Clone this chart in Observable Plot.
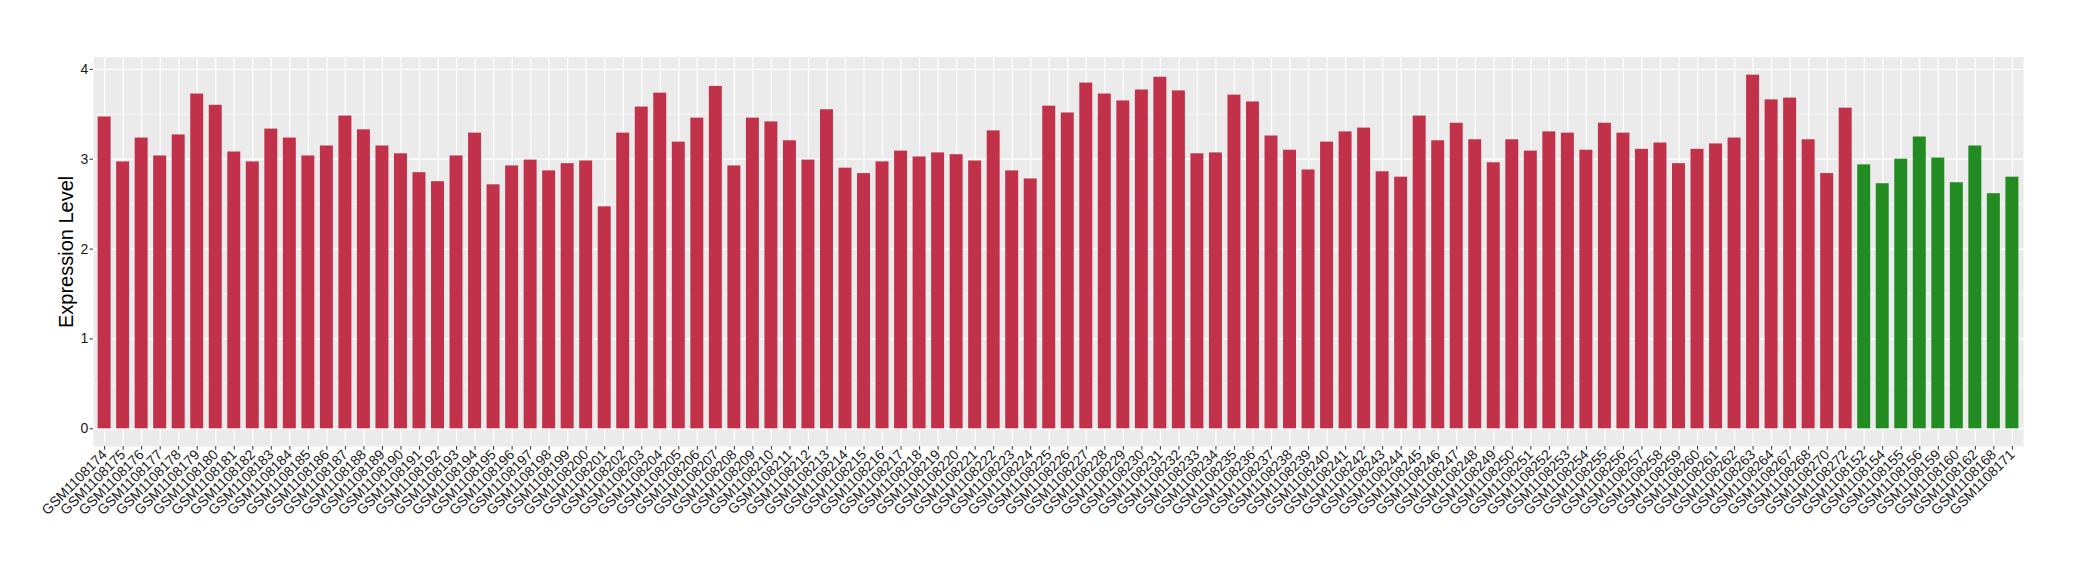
<!DOCTYPE html>
<html>
<head>
<meta charset="utf-8">
<script src="https://cdn.jsdelivr.net/npm/d3@7"></script>
<script src="https://cdn.jsdelivr.net/npm/@observablehq/plot@0.6"></script>
<style>
  html, body { margin: 0; padding: 0; background: #ffffff; }
  #chart { width: 2080px; height: 580px; }
</style>
</head>
<body>
<div id="chart"></div>
<script>
// ---- data ----
const group1Samples = [
  "GSM1108174","GSM1108175","GSM1108176","GSM1108177","GSM1108178","GSM1108179","GSM1108180","GSM1108181",
  "GSM1108182","GSM1108183","GSM1108184","GSM1108185","GSM1108186","GSM1108187","GSM1108188","GSM1108189",
  "GSM1108190","GSM1108191","GSM1108192","GSM1108193","GSM1108194","GSM1108195","GSM1108196","GSM1108197",
  "GSM1108198","GSM1108199","GSM1108200","GSM1108201","GSM1108202","GSM1108203","GSM1108204","GSM1108205",
  "GSM1108206","GSM1108207","GSM1108208","GSM1108209","GSM1108210","GSM1108211","GSM1108212","GSM1108213",
  "GSM1108214","GSM1108215","GSM1108216","GSM1108217","GSM1108218","GSM1108219","GSM1108220","GSM1108221",
  "GSM1108222","GSM1108223","GSM1108224","GSM1108225","GSM1108226","GSM1108227","GSM1108228","GSM1108229",
  "GSM1108230","GSM1108231","GSM1108232","GSM1108233","GSM1108234","GSM1108235","GSM1108236","GSM1108237",
  "GSM1108238","GSM1108239","GSM1108240","GSM1108241","GSM1108242","GSM1108243","GSM1108244","GSM1108245",
  "GSM1108246","GSM1108247","GSM1108248","GSM1108249","GSM1108250","GSM1108251","GSM1108252","GSM1108253",
  "GSM1108254","GSM1108255","GSM1108256","GSM1108257","GSM1108258","GSM1108259","GSM1108260","GSM1108261",
  "GSM1108262","GSM1108263","GSM1108264","GSM1108267","GSM1108268","GSM1108270","GSM1108272"
];
const group1Values = [
  3.47, 2.97, 3.235, 3.036, 3.27, 3.725, 3.60, 3.08,
  2.97, 3.335, 3.235, 3.036, 3.147, 3.48, 3.327, 3.147,
  3.06, 2.85, 2.75, 3.036, 3.29, 2.715, 2.925, 2.99,
  2.87, 2.95, 2.98, 2.47, 3.29, 3.58, 3.735, 3.19,
  3.457, 3.81, 2.925, 3.457, 3.415, 3.205, 2.99, 3.55,
  2.90, 2.84, 2.97, 3.09, 3.025, 3.07, 3.05, 2.98,
  3.315, 2.87, 2.78, 3.59, 3.514, 3.847, 3.725, 3.648,
  3.77, 3.912, 3.76, 3.06, 3.07, 3.713, 3.637, 3.258,
  3.10, 2.88, 3.19, 3.304, 3.346, 2.86, 2.80, 3.48,
  3.205, 3.40, 3.216, 2.96, 3.216, 3.09, 3.304, 3.29,
  3.10, 3.40, 3.29, 3.11, 3.18, 2.95, 3.11, 3.17,
  3.235, 3.935, 3.66, 3.68, 3.216, 2.84, 3.568
];
const group2Samples = [
  "GSM1108152","GSM1108154","GSM1108155","GSM1108156","GSM1108159",
  "GSM1108160","GSM1108162","GSM1108168","GSM1108171"
];
const group2Values = [2.937, 2.727, 3.00, 3.247, 3.013, 2.738, 3.147, 2.616, 2.80];

const groupNames = ["group1", "group2"];
const groupColors = ["#C2314A", "#228B22"];
const yMajorTicks = [0, 1, 2, 3, 4];
const yMinorTicks = [0.5, 1.5, 2.5, 3.5];
const yTitle = "Expression Level";

// ---- table for Plot ----
const data = [
  ...group1Samples.map((s, i) => ({sample: s, value: group1Values[i], group: groupNames[0]})),
  ...group2Samples.map((s, i) => ({sample: s, value: group2Values[i], group: groupNames[1]}))
];
const sampleOrder = [...group1Samples, ...group2Samples];

const chart = Plot.plot({
  width: 2080,
  height: 580,
  marginTop: 56.7,
  marginBottom: 134,
  marginLeft: 93,
  marginRight: 57,
  style: {fontFamily: "'Liberation Sans', Arial, Helvetica, sans-serif", fontSize: "14px", background: "#ffffff", color: "#1a1a1a"},
  x: {domain: sampleOrder, paddingInner: 0.3, paddingOuter: 0.25, label: null},
  y: {domain: [-0.197, 4.135], label: null},
  color: {domain: groupNames, range: groupColors},
  marks: [
    Plot.frame({fill: "#EBEBEB", stroke: null}),
    Plot.gridY({ticks: yMinorTicks, stroke: "#ffffff", strokeOpacity: 1, strokeWidth: 0.6}),
    Plot.gridY({ticks: yMajorTicks, stroke: "#ffffff", strokeOpacity: 1, strokeWidth: 1.2}),
    Plot.gridX({stroke: "#ffffff", strokeOpacity: 1, strokeWidth: 1.2}),
    Plot.barY(data, {x: "sample", y: "value", fill: "group"}),
    Plot.axisY({ticks: yMajorTicks, tickFormat: "d", tickSize: 3.5, tickPadding: 1.8, fontSize: 14, label: null, stroke: "#333333", fill: "#1a1a1a"}),
    Plot.axisX({tickRotate: -45, tickSize: 3.7, tickPadding: 2, fontSize: 14, label: null, stroke: "#333333", fill: "#1a1a1a"}),
    Plot.text([yTitle], {frameAnchor: "left", textAnchor: "middle", lineAnchor: "middle", rotate: -90, dx: -27, fontSize: 20, fill: "#000000", text: d => d})
  ]
});
document.getElementById("chart").appendChild(chart);
</script>
</body>
</html>
